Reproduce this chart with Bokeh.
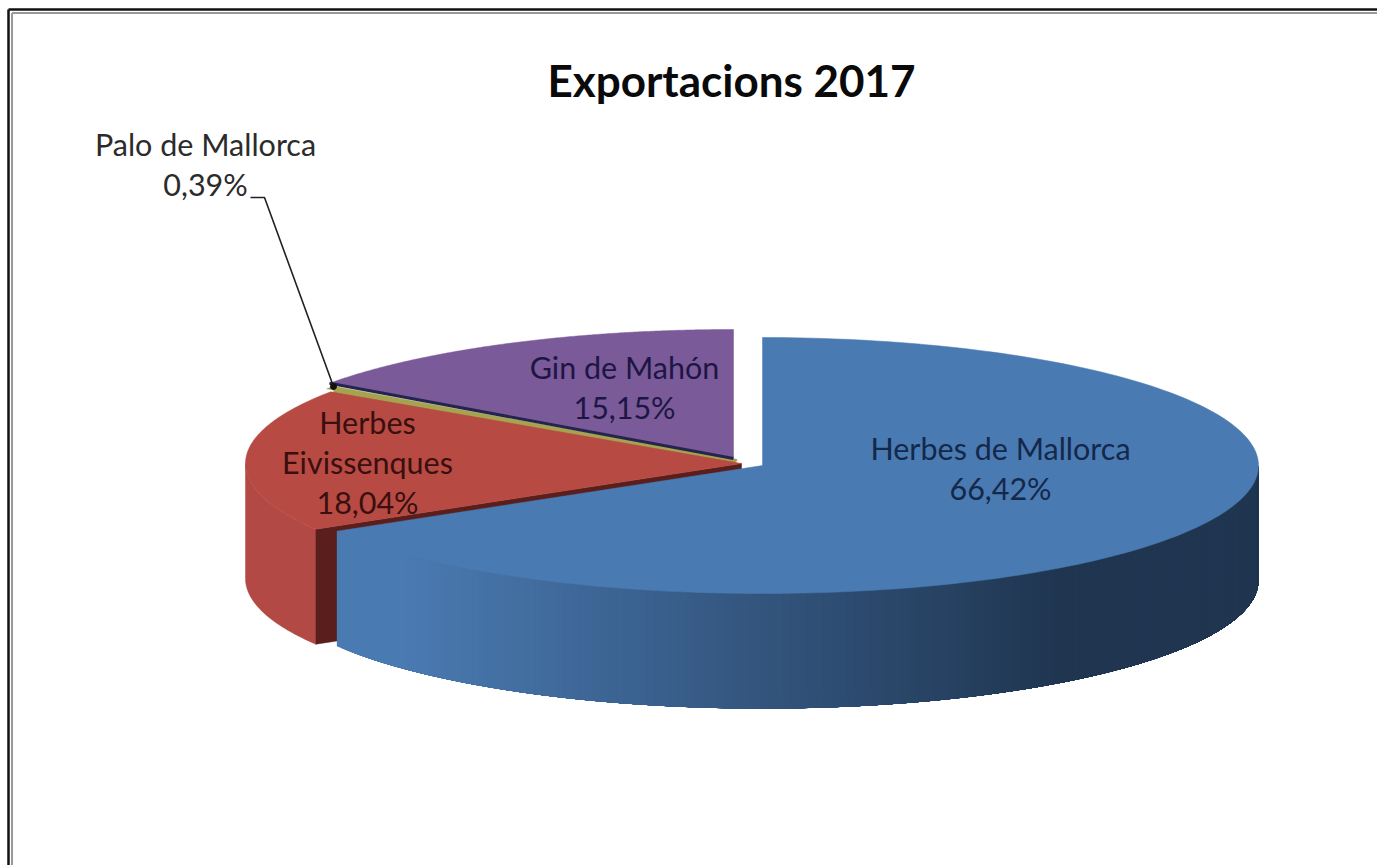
import numpy as np
from bokeh.plotting import figure
from bokeh.models import Range1d
from bokeh.core.properties import value
from bokeh.embed import file_html
from bokeh.resources import INLINE

categories = ["Herbes de Mallorca", "Herbes Eivissenques", "Palo de Mallorca", "Gin de Mahón"]
shares = [66.42, 18.04, 0.39, 15.15]
title = "Exportacions 2017"
top_colors = ["#4a7ab2", "#b74a43", "#a5a34f", "#7a5a98"]
cut_colors = ["#1f3550", "#5a1f1c", "#5a6020", "#25244f"]
side_colors = ["#4a7ab2", "#b24944"]

# layout in reference pixels
RX, RY, DEPTH = 496, 128, 115
centers = [(762, 465), (741, 463), (737, 460), (733, 457)]
label_lines = [["Herbes de Mallorca"], ["Herbes", "Eivissenques"], ["Palo de Mallorca"], ["Gin de Mahón"]]
label_pos = [(1000, 447), (367, 421), (205, 143), (624, 366)]
label_colors = ["#14284a", "#3a0f0f", "#2b2b2b", "#1d1644"]
LINE_H = 40

p = figure(width=1377, height=865, x_range=Range1d(0, 1377), y_range=Range1d(865, 0),
           output_backend="svg", toolbar_location=None, min_border=0,
           outline_line_color=None, background_fill_color="white", border_fill_color="white")
p.axis.visible = False
p.grid.visible = False

# slice angles, clockwise from the top, from the shares
edges = np.concatenate([[0], np.cumsum(shares)]) / sum(shares) * 2 * np.pi


def arc(c, a, b, n=200):
    t = np.linspace(a, b, n)
    return c[0] + RX * np.sin(t), c[1] - RY * np.cos(t)


def hex_mix(c1, c2, f):
    a = np.array([int(c1[i:i + 2], 16) for i in (1, 3, 5)])
    b = np.array([int(c2[i:i + 2], 16) for i in (1, 3, 5)])
    r = np.round(a + (b - a) * f).astype(int)
    return "#%02x%02x%02x" % tuple(r)


def top(i):
    c = centers[i]
    x, y = arc(c, edges[i], edges[i + 1])
    p.patch(np.r_[c[0], x], np.r_[c[1], y], fill_color=top_colors[i], line_color=top_colors[i], line_width=0.5)


def cut(i, ang, depth):
    c = centers[i]
    ex, ey = arc(c, ang, ang, 1)
    p.patch([c[0], ex[0], ex[0], c[0]], [c[1], ey[0], ey[0] + depth, c[1] + depth],
            fill_color=cut_colors[i], line_color=cut_colors[i], line_width=0.5)


# back slice: Gin de Mahón
top(3)
# Palo de Mallorca: too thin to fill the gap on its own, so its edge is stroked as well
top(2)
gx, gy = arc(centers[2], edges[2], edges[2], 1)
p.line([centers[1][0] - 5, gx[0] + 7], [centers[1][1] - 2, gy[0] + 1.5], line_color=top_colors[2], line_width=5)
# cut line of Gin de Mahón
cx3, cy3 = arc(centers[3], edges[3], edges[3], 1)
p.line([centers[3][0], cx3[0]], [centers[3][1] + 1, cy3[0]], line_color=cut_colors[3], line_width=3)

# Herbes Eivissenques: outer wall, cut face, top
x, y = arc(centers[1], edges[1], 1.5 * np.pi, 60)
p.patch(np.r_[x, x[::-1]], np.r_[y, y[::-1] + DEPTH], fill_color=side_colors[1], line_color=side_colors[1], line_width=0.5)
cut(1, edges[1], DEPTH)
top(1)

# Herbes de Mallorca: outer wall as a gradient, then top
dark = cut_colors[0]
light = side_colors[0]
ts = np.linspace(edges[1], 0.5 * np.pi, 161)
for a in ts[:-1]:
    # every strip runs on to the end of the wall, so no seam shows between strips
    x, y = arc(centers[0], a, 0.5 * np.pi, 60)
    f = np.clip((x[0] - 400) / (1060 - 400), 0, 1)
    col = hex_mix(light, dark, f)
    p.patch(np.r_[x, x[::-1]], np.r_[y, y[::-1] + DEPTH], fill_color=col, line_color=None)
top(0)

# leader line of the small slice
p.line([250, 264, 333], [197, 197, 386], line_color="#222222", line_width=1.6)
p.scatter([333], [386], size=6, fill_color="#111111", line_color="#111111")

# labels
font = value("Lato")
for i, lines in enumerate(label_lines):
    txt = lines + [("%.2f%%" % shares[i]).replace(".", ",")]
    lx0, ly0 = label_pos[i]
    for j, s in enumerate(txt):
        p.text([lx0], [ly0 + j * LINE_H], text=[s], text_font=font,
               text_font_size="30.5px", text_color=label_colors[i], text_align="center", text_baseline="middle")

p.text([731], [79], text=[title], text_font=font, text_font_size="44px", text_font_style="bold",
       text_color="#0a0a0a", text_align="center", text_baseline="middle")

# frame of the picture: dark outer line and grey inner line, open to the right and the bottom
p.line([8, 8], [9, 865], line_color="#111111", line_width=2.5)
p.line([8, 1377], [9, 9], line_color="#111111", line_width=2.5)
p.line([11.5, 11.5], [12.5, 865], line_color="#999999", line_width=2)
p.line([11.5, 1377], [12.5, 12.5], line_color="#999999", line_width=2)

open("out.html", "w").write(file_html(p, INLINE))
